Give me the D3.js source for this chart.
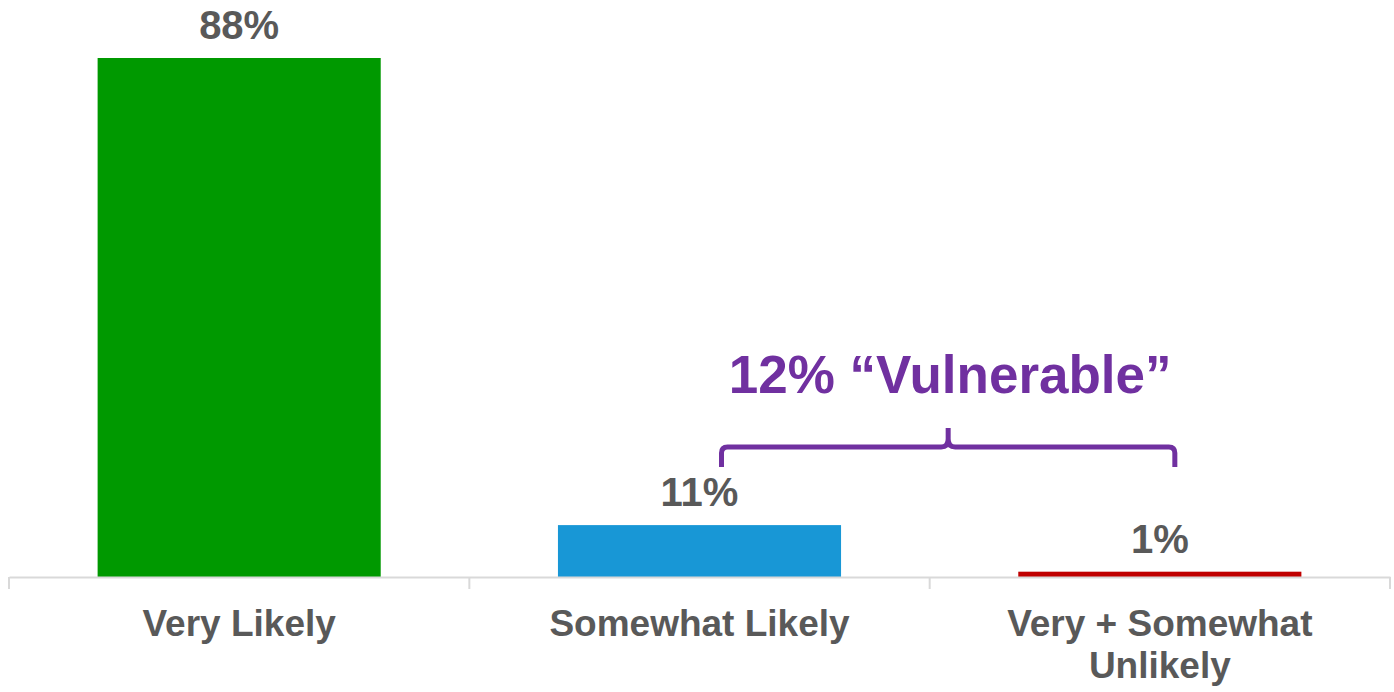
<!DOCTYPE html>
<meta charset="utf-8">
<head>
<title></title>
<script src="https://d3js.org/d3.v7.min.js"></script>
<style>
  body { margin: 0; background: #fff; }
  text { font-family: "Liberation Sans", Arial, sans-serif; font-weight: bold; }
</style>
</head>
<body>
<div id="chart"></div>
<script>
// categories and values (bar heights, labels as printed)
var categories = ["Very Likely", "Somewhat Likely", "Very + Somewhat Unlikely"];
var barValues = [88, 8.8, 0.9];
var valueLabels = ["88%", "11%", "1%"];
var barColors = ["#009900", "#1897d6", "#c00000"];
var calloutText = "12% \u201cVulnerable\u201d";

var width = 1394, height = 692;

var svg = d3.select("#chart").append("svg")
    .attr("width", width)
    .attr("height", height);

var x = d3.scaleBand()
    .domain(categories)
    .range([9, 1390])
    .paddingInner(0.385)
    .paddingOuter(0.1925);

var y = d3.scaleLinear()
    .domain([0, 88])
    .range([577, 58]);

// bars
svg.append("g").selectAll("rect")
  .data(categories)
  .enter().append("rect")
    .attr("x", function(d) { return x(d); })
    .attr("y", function(d, i) { return y(barValues[i]); })
    .attr("width", x.bandwidth())
    .attr("height", function(d, i) { return y(0) - y(barValues[i]); })
    .attr("fill", function(d, i) { return barColors[i]; });

// x axis line
var axis = svg.append("g")
    .attr("transform", "translate(0," + y(0) + ")")
    .call(d3.axisBottom(x).tickSize(0).tickSizeOuter(0).tickFormat(""));
axis.select(".domain").attr("stroke", "#d9d9d9").attr("stroke-width", 2);

// tick marks between categories
var bounds = d3.range(categories.length + 1).map(function(i) { return 9 + i * x.step(); });
axis.selectAll(".sep")
  .data(bounds)
  .enter().append("line")
    .attr("x1", function(d) { return d; })
    .attr("x2", function(d) { return d; })
    .attr("y1", 0)
    .attr("y2", 12)
    .attr("stroke", "#d9d9d9")
    .attr("stroke-width", 2);

// category labels (wrapped)
var wrapped = [["Very Likely"], ["Somewhat Likely"], ["Very + Somewhat", "Unlikely"]];
svg.append("g").selectAll("text")
  .data(categories)
  .enter().append("text")
    .attr("text-anchor", "middle")
    .attr("y", y(0) + 59)
    .attr("fill", "#595959")
    .style("font-size", "37px")
    .each(function(d, i) {
      var t = d3.select(this);
      wrapped[i].forEach(function(line, j) {
        t.append("tspan")
          .attr("x", x(d) + x.bandwidth() / 2)
          .attr("dy", j === 0 ? 0 : 42)
          .text(line);
      });
    });

// value labels
svg.append("g").selectAll("text")
  .data(categories)
  .enter().append("text")
    .attr("text-anchor", "middle")
    .attr("x", function(d) { return x(d) + x.bandwidth() / 2; })
    .attr("y", function(d, i) { return y(barValues[i]) - 19; })
    .attr("fill", "#595959")
    .style("font-size", "40px")
    .text(function(d, i) { return valueLabels[i]; });

// bracket over the last two bars
var purple = "#7030a0";
var bx0 = x(categories[1]) + x.bandwidth() / 2 + 22,
    bx1 = x(categories[2]) + x.bandwidth() / 2 + 15,
    bm = (bx0 + bx1) / 2,
    by = 447, r = 6;
var bracket = d3.path();
bracket.moveTo(bx0, by + 20);
bracket.lineTo(bx0, by + r);
bracket.quadraticCurveTo(bx0, by, bx0 + r, by);
bracket.lineTo(bm - 7, by);
bracket.quadraticCurveTo(bm, by, bm, by - 8);
bracket.lineTo(bm, by - 19);
bracket.moveTo(bm, by - 8);
bracket.quadraticCurveTo(bm, by, bm + 7, by);
bracket.lineTo(bx1 - r, by);
bracket.quadraticCurveTo(bx1, by, bx1, by + r);
bracket.lineTo(bx1, by + 20);
svg.append("path")
    .attr("d", bracket.toString())
    .attr("fill", "none")
    .attr("stroke", purple)
    .attr("stroke-width", 5);

svg.append("text")
    .attr("x", bm + 2)
    .attr("y", 393)
    .attr("text-anchor", "middle")
    .attr("fill", purple)
    .style("font-size", "53px")
    .text(calloutText);
</script>
</body>
</html>
